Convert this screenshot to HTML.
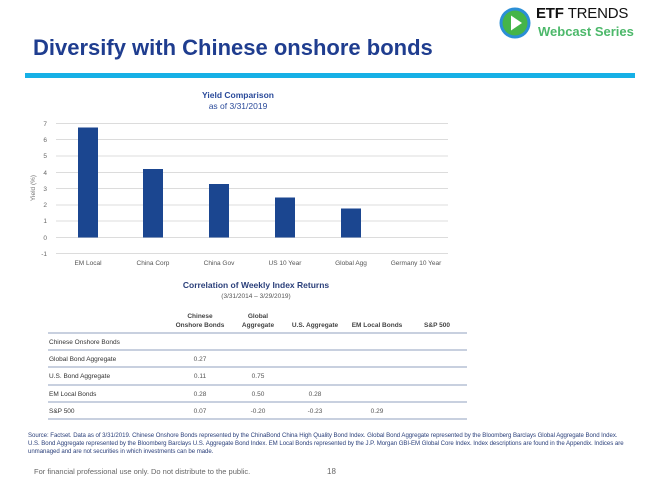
<!DOCTYPE html>
<html><head><style>
body{margin:0;width:648px;height:485px;background:#fff;font-family:"Liberation Sans",sans-serif;position:relative;overflow:hidden}
.a{position:absolute;white-space:nowrap}
</style></head><body>
<div class="a" style="left:33px;top:35px;font-size:22px;font-weight:bold;color:#1f3d8f">Diversify with Chinese onshore bonds</div>
<div class="a" style="left:25px;top:73px;width:610px;height:5px;background:#16b0e6"></div>
<svg class="a" style="left:499px;top:7px" width="33" height="33"><circle cx="16" cy="16" r="15.5" fill="#2b8fd6"/><circle cx="16" cy="16" r="12.5" fill="#45b549"/><polygon points="12,8.5 23,16 12,23.5" fill="#fff"/></svg>
<div class="a" style="left:536px;top:5px;font-size:15px;font-weight:bold;color:#111;letter-spacing:-0.2px">ETF <span style="font-weight:normal">TRENDS</span></div>
<div class="a" style="left:538px;top:24px;font-size:13px;font-weight:bold;color:#4cb86a">Webcast Series</div>

<svg class="a" style="left:0;top:0" width="648" height="280" font-family="Liberation Sans,sans-serif">
<text x="238" y="98" text-anchor="middle" font-size="8.5" font-weight="bold" fill="#2a4a9a">Yield Comparison</text>
<text x="238" y="109" text-anchor="middle" font-size="8.5" fill="#2a4a9a">as of 3/31/2019</text>
<g stroke="#dcdcdc" stroke-width="1">
<line x1="56" x2="448" y1="123.5" y2="123.5"/><line x1="56" x2="448" y1="139.5" y2="139.5"/><line x1="56" x2="448" y1="156" y2="156"/><line x1="56" x2="448" y1="172.5" y2="172.5"/><line x1="56" x2="448" y1="188.5" y2="188.5"/><line x1="56" x2="448" y1="205" y2="205"/><line x1="56" x2="448" y1="221" y2="221"/><line x1="56" x2="448" y1="237.5" y2="237.5"/><line x1="56" x2="448" y1="253.5" y2="253.5"/>
</g>
<g font-size="6.5" fill="#666" text-anchor="end">
<text x="47" y="126">7</text><text x="47" y="142">6</text><text x="47" y="158">5</text><text x="47" y="175">4</text><text x="47" y="191">3</text><text x="47" y="207">2</text><text x="47" y="223">1</text><text x="47" y="240">0</text><text x="47" y="256">-1</text>
</g>
<text transform="translate(35,188) rotate(-90)" text-anchor="middle" font-size="6.5" fill="#777">Yield (%)</text>
<g fill="#1b4690">
<rect x="78" y="127.5" width="20" height="110"/>
<rect x="143" y="169" width="20" height="68.5"/>
<rect x="209" y="184" width="20" height="53.5"/>
<rect x="275" y="197.5" width="20" height="40"/>
<rect x="341" y="208.5" width="20" height="29"/>
</g>
<g font-size="6.5" fill="#555" text-anchor="middle">
<text x="88" y="265">EM Local</text><text x="153" y="265">China Corp</text><text x="219" y="265">China Gov</text><text x="285" y="265">US 10 Year</text><text x="351" y="265">Global Agg</text><text x="416" y="265">Germany 10 Year</text>
</g>
</svg>

<svg class="a" style="left:0;top:275px" width="648" height="150" font-family="Liberation Sans,sans-serif">
<text x="256" y="13" text-anchor="middle" font-size="8.5" font-weight="bold" fill="#2a3f7a">Correlation of Weekly Index Returns</text>
<text x="256" y="23" text-anchor="middle" font-size="6.5" fill="#555">(3/31/2014 – 3/29/2019)</text>
<g font-size="6.5" font-weight="bold" fill="#444" text-anchor="middle">
<text x="200" y="43">Chinese</text><text x="200" y="52">Onshore Bonds</text>
<text x="258" y="43">Global</text><text x="258" y="52">Aggregate</text>
<text x="315" y="52">U.S.  Aggregate</text><text x="377" y="52">EM Local Bonds</text><text x="437" y="52">S&amp;P 500</text>
</g>
<g stroke="#a8b4cc" stroke-width="1.2">
<line x1="48" x2="467" y1="58" y2="58"/><line x1="48" x2="467" y1="75" y2="75"/><line x1="48" x2="467" y1="92" y2="92"/><line x1="48" x2="467" y1="110" y2="110"/><line x1="48" x2="467" y1="127" y2="127"/><line x1="48" x2="467" y1="144" y2="144"/>
</g>
<g font-size="6.5" fill="#333">
<text x="49" y="69">Chinese Onshore Bonds</text><text x="49" y="86">Global Bond Aggregate</text><text x="49" y="103">U.S. Bond Aggregate</text><text x="49" y="121">EM Local Bonds</text><text x="49" y="138">S&amp;P 500</text>
</g>
<g font-size="6.5" fill="#555" text-anchor="middle">
<text x="200" y="86">0.27</text>
<text x="200" y="103">0.11</text><text x="258" y="103">0.75</text>
<text x="200" y="121">0.28</text><text x="258" y="121">0.50</text><text x="315" y="121">0.28</text>
<text x="200" y="138">0.07</text><text x="258" y="138">-0.20</text><text x="315" y="138">-0.23</text><text x="377" y="138">0.29</text>
</g>
</svg>

<div class="a" style="left:28px;top:432px;font-size:6.1px;line-height:8px;color:#2a3f7a;letter-spacing:-0.05px">Source: Factset. Data as of 3/31/2019. Chinese Onshore Bonds represented by the ChinaBond China High Quality Bond Index.  Global Bond Aggregate represented by the Bloomberg Barclays Global Aggregate Bond Index.<br>U.S. Bond Aggregate represented by the Bloomberg Barclays U.S. Aggregate Bond Index.  EM Local Bonds represented by the J.P. Morgan GBI-EM Global Core Index. Index descriptions are found in the Appendix. Indices are<br>unmanaged and are not securities in which investments can be made.</div>
<div class="a" style="left:34px;top:467px;font-size:7.5px;color:#666">For financial professional use only. Do not distribute to the public.</div>
<div class="a" style="left:327px;top:467px;font-size:8px;color:#666">18</div>
</body></html>
